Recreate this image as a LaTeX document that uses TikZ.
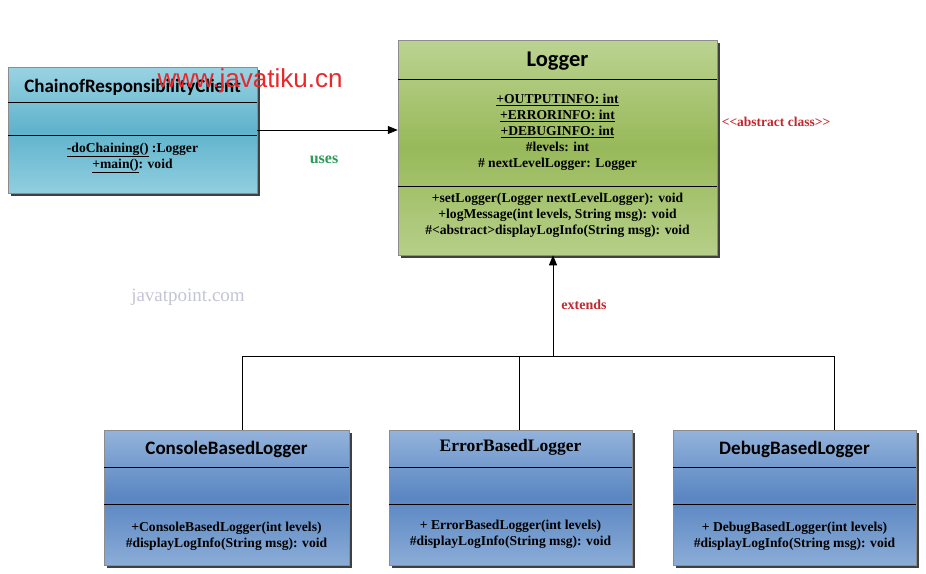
\documentclass[tikz,border=0pt]{standalone}
\usepackage{fontspec}
\setmainfont{Liberation Serif}
\newfontfamily\calibri{Carlito}
\newfontfamily\arialfont{Liberation Sans}
\usetikzlibrary{arrows.meta,shadows,positioning}

\definecolor{clienttop}{HTML}{9AD3E3}
\definecolor{clientmid}{HTML}{5FB3CC}
\definecolor{loggertop}{HTML}{BBD391}
\definecolor{loggermid}{HTML}{98B95A}
\definecolor{subtop}{HTML}{93B3DB}
\definecolor{submid}{HTML}{5A86C2}
\definecolor{usesgreen}{HTML}{2E9A5A}
\definecolor{labelred}{HTML}{C0282E}
\definecolor{markgray}{HTML}{C4C4D6}
\definecolor{markred}{HTML}{E8282A}

\begin{document}
\begin{tikzpicture}[x=1pt,y=-1pt,
    classbox/.style={rectangle, draw=black!45, line width=0.5pt,
        drop shadow={shadow xshift=2.5pt, shadow yshift=-2.5pt, fill=black!75, opacity=1}},
    clientfill/.style={top color=clienttop, bottom color=clienttop!85!clientmid, middle color=clientmid},
    loggerfill/.style={top color=loggertop, bottom color=loggertop!85!loggermid, middle color=loggermid},
    subfill/.style={top color=subtop, bottom color=subtop!85!submid, middle color=submid},
    sansname/.style={font=\calibri\bfseries\fontsize{19}{22}\selectfont},
    serifname/.style={font=\bfseries\fontsize{17.5}{20}\selectfont},
    member/.style={font=\bfseries\fontsize{13.6}{16}\selectfont, align=center, inner sep=0pt},
    divider/.style={draw=black, line width=0.6pt},
    link/.style={draw, line width=0.8pt, -{Triangle[width=8pt,length=10pt]}},
    plain/.style={draw, line width=0.8pt},
]
\useasboundingbox (0,0) rectangle (926,573);

% client class
\node[classbox, clientfill, minimum width=249, minimum height=126] (client) at (132.5,130) {};
\draw[divider] ([yshift=-36pt]client.north west) -- ([yshift=-36pt]client.north east);
\draw[divider] ([yshift=-69pt]client.north west) -- ([yshift=-69pt]client.north east);
\node[sansname] (clientname) at ([yshift=-21pt]client.north) {ChainofResponsibilityClient};
\node[member] (clientops) at ([yshift=-91pt]client.north)
    {\underline{-doChaining()} :Logger\\ \underline{+main()}: void};

% abstract logger
\node[classbox, loggerfill, minimum width=319, minimum height=215] (logger) at (557.5,147.5) {};
\draw[divider] ([yshift=-40pt]logger.north west) -- ([yshift=-40pt]logger.north east);
\draw[divider] ([yshift=-147pt]logger.north west) -- ([yshift=-147pt]logger.north east);
\node[sansname, font=\calibri\bfseries\fontsize{22.5}{24}\selectfont] (loggername) at ([yshift=-21pt]logger.north) {Logger};
\node[member] (loggerattrs) at ([yshift=-93pt]logger.north)
    {\underline{+OUTPUTINFO: int}\\ \underline{+ERRORINFO: int}\\ \underline{+DEBUGINFO: int}\\
     \#levels: int\\ \# nextLevelLogger: Logger};
\node[member] (loggerops) at ([yshift=-176pt]logger.north)
    {+setLogger(Logger nextLevelLogger): void\\ +logMessage(int levels, String msg): void\\
     \#<abstract>displayLogInfo(String msg): void};

% concrete loggers
\node[classbox, subfill, minimum width=245, minimum height=135] (console) at (226.5,497.5) {};
\node[classbox, subfill, minimum width=243, minimum height=135] (error) at (510.5,497.5) {};
\node[classbox, subfill, minimum width=243, minimum height=135] (debug) at (794.5,497.5) {};
\foreach \cls in {console,error,debug}{
    \draw[divider] ([yshift=-38pt]\cls.north west) -- ([yshift=-38pt]\cls.north east);
    \draw[divider] ([yshift=-75pt]\cls.north west) -- ([yshift=-75pt]\cls.north east);
}
\node[sansname] (consolename) at ([yshift=-20pt]console.north) {ConsoleBasedLogger};
\node[serifname] (errorname) at ([yshift=-18pt]error.north) {ErrorBasedLogger};
\node[sansname] (debugname) at ([yshift=-20pt]debug.north) {DebugBasedLogger};
\node[member] (consoleops) at ([yshift=-106.5pt]console.north)
    {+ConsoleBasedLogger(int levels)\\ \#displayLogInfo(String msg): void};
\node[member] (errorops) at ([yshift=-105pt]error.north)
    {+ ErrorBasedLogger(int levels)\\ \#displayLogInfo(String msg): void};
\node[member] (debugops) at ([yshift=-106.5pt]debug.north)
    {+ DebugBasedLogger(int levels)\\ \#displayLogInfo(String msg): void};

% relations
\draw[link] (client.east) -- (logger.west |- client.east);
\coordinate (joint) at (553,356);
\coordinate (busleft) at (242,356);
\coordinate (busmid) at (519,356);
\coordinate (busright) at (834,356);
\draw[plain] (busleft) -- (busright);
\draw[link] (joint) -- (joint |- logger.south);
\draw[plain] (console.north -| busleft) -- (busleft);
\draw[plain] (error.north -| busmid) -- (busmid);
\draw[plain] (debug.north -| busright) -- (busright);

% labels
\node[font=\bfseries\fontsize{16}{18}\selectfont, text=usesgreen] (uses) at (324,160) {uses};
\node[font=\bfseries\fontsize{13.5}{15}\selectfont, text=labelred] (abstract) at (776,122) {{<}{<}abstract class{>}{>}};
\node[font=\bfseries\fontsize{14}{16}\selectfont, text=labelred] (extends) at (584,305) {extends};
\node[font=\fontsize{19}{21}\selectfont, text=markgray] (site) at (188,297) {javatpoint.com};
\node[font=\arialfont\fontsize{26}{28}\selectfont, text=markred] (mark) at (250,81) {www.javatiku.cn};
\end{tikzpicture}
\end{document}
